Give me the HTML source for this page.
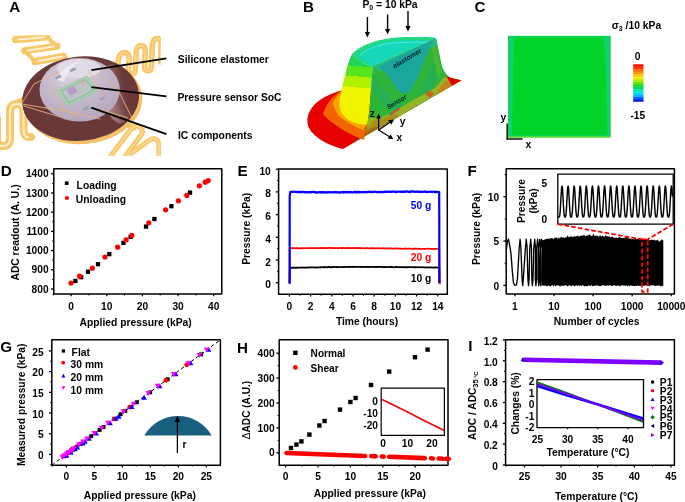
<!DOCTYPE html>
<html><head><meta charset="utf-8"><style>
html,body{margin:0;padding:0;background:#fff;}
svg{display:block;font-family:"Liberation Sans",sans-serif;font-weight:bold;will-change:transform;}
</style></head><body>
<svg width="685" height="502" viewBox="0 0 685 502">
<rect width="685" height="502" fill="#fff"/>
<text x="9.20" y="11.70" font-size="15.2" text-anchor="start" fill="#000" >A</text>
<text x="303.00" y="11.70" font-size="15.2" text-anchor="start" fill="#000" >B</text>
<text x="474.40" y="11.90" font-size="15.2" text-anchor="start" fill="#000" >C</text>
<text x="0.70" y="175.90" font-size="15.2" text-anchor="start" fill="#000" >D</text>
<text x="237.50" y="175.60" font-size="15.2" text-anchor="start" fill="#000" >E</text>
<text x="467.50" y="175.60" font-size="15.2" text-anchor="start" fill="#000" >F</text>
<text x="0.30" y="351.50" font-size="15.2" text-anchor="start" fill="#000" >G</text>
<text x="236.90" y="352.50" font-size="15.2" text-anchor="start" fill="#000" >H</text>
<text x="468.30" y="350.50" font-size="15.2" text-anchor="start" fill="#000" >I</text>
<rect x="73.25" y="278.85" width="4.3" height="4.3" fill="#000"/>
<rect x="79.05" y="275.05" width="4.3" height="4.3" fill="#000"/>
<rect x="85.85" y="269.65" width="4.3" height="4.3" fill="#000"/>
<rect x="95.85" y="262.05" width="4.3" height="4.3" fill="#000"/>
<rect x="107.15" y="251.95" width="4.3" height="4.3" fill="#000"/>
<rect x="121.25" y="240.75" width="4.3" height="4.3" fill="#000"/>
<rect x="128.45" y="234.65" width="4.3" height="4.3" fill="#000"/>
<rect x="143.85" y="224.45" width="4.3" height="4.3" fill="#000"/>
<rect x="152.25" y="216.85" width="4.3" height="4.3" fill="#000"/>
<rect x="169.25" y="204.05" width="4.3" height="4.3" fill="#000"/>
<rect x="187.85" y="190.45" width="4.3" height="4.3" fill="#000"/>
<circle cx="71.00" cy="283.00" r="2.6" fill="#f00"/>
<circle cx="79.60" cy="276.20" r="2.6" fill="#f00"/>
<circle cx="92.40" cy="268.20" r="2.6" fill="#f00"/>
<circle cx="105.00" cy="257.00" r="2.6" fill="#f00"/>
<circle cx="117.60" cy="247.20" r="2.6" fill="#f00"/>
<circle cx="126.10" cy="239.90" r="2.6" fill="#f00"/>
<circle cx="131.80" cy="235.40" r="2.6" fill="#f00"/>
<circle cx="148.80" cy="222.80" r="2.6" fill="#f00"/>
<circle cx="165.60" cy="209.80" r="2.6" fill="#f00"/>
<circle cx="178.40" cy="200.80" r="2.6" fill="#f00"/>
<circle cx="186.80" cy="195.40" r="2.6" fill="#f00"/>
<circle cx="199.40" cy="185.80" r="2.6" fill="#f00"/>
<circle cx="205.20" cy="182.20" r="2.6" fill="#f00"/>
<circle cx="208.20" cy="180.60" r="2.6" fill="#f00"/>
<rect x="53.80" y="168.80" width="168.00" height="125.20" fill="none" stroke="#000" stroke-width="1.5" stroke-linejoin="round"/>
<line x1="53.80" y1="289.00" x2="51.00" y2="289.00" stroke="#000" stroke-width="1.3" />
<text x="48.60" y="292.60" font-size="10.2" text-anchor="end" fill="#000" >800</text>
<line x1="53.80" y1="269.80" x2="51.00" y2="269.80" stroke="#000" stroke-width="1.3" />
<text x="48.60" y="273.40" font-size="10.2" text-anchor="end" fill="#000" >900</text>
<line x1="53.80" y1="250.60" x2="51.00" y2="250.60" stroke="#000" stroke-width="1.3" />
<text x="48.60" y="254.20" font-size="10.2" text-anchor="end" fill="#000" >1000</text>
<line x1="53.80" y1="231.40" x2="51.00" y2="231.40" stroke="#000" stroke-width="1.3" />
<text x="48.60" y="235.00" font-size="10.2" text-anchor="end" fill="#000" >1100</text>
<line x1="53.80" y1="212.20" x2="51.00" y2="212.20" stroke="#000" stroke-width="1.3" />
<text x="48.60" y="215.80" font-size="10.2" text-anchor="end" fill="#000" >1200</text>
<line x1="53.80" y1="193.00" x2="51.00" y2="193.00" stroke="#000" stroke-width="1.3" />
<text x="48.60" y="196.60" font-size="10.2" text-anchor="end" fill="#000" >1300</text>
<line x1="53.80" y1="173.80" x2="51.00" y2="173.80" stroke="#000" stroke-width="1.3" />
<text x="48.60" y="177.40" font-size="10.2" text-anchor="end" fill="#000" >1400</text>
<line x1="53.80" y1="279.40" x2="52.20" y2="279.40" stroke="#000" stroke-width="1.0" />
<line x1="53.80" y1="260.20" x2="52.20" y2="260.20" stroke="#000" stroke-width="1.0" />
<line x1="53.80" y1="241.00" x2="52.20" y2="241.00" stroke="#000" stroke-width="1.0" />
<line x1="53.80" y1="221.80" x2="52.20" y2="221.80" stroke="#000" stroke-width="1.0" />
<line x1="53.80" y1="202.60" x2="52.20" y2="202.60" stroke="#000" stroke-width="1.0" />
<line x1="53.80" y1="183.40" x2="52.20" y2="183.40" stroke="#000" stroke-width="1.0" />
<line x1="71.10" y1="294.00" x2="71.10" y2="296.20" stroke="#000" stroke-width="1.3" />
<text x="71.10" y="310.20" font-size="10.2" text-anchor="middle" fill="#000" >0</text>
<line x1="106.75" y1="294.00" x2="106.75" y2="296.20" stroke="#000" stroke-width="1.3" />
<text x="106.75" y="310.20" font-size="10.2" text-anchor="middle" fill="#000" >10</text>
<line x1="142.40" y1="294.00" x2="142.40" y2="296.20" stroke="#000" stroke-width="1.3" />
<text x="142.40" y="310.20" font-size="10.2" text-anchor="middle" fill="#000" >20</text>
<line x1="178.05" y1="294.00" x2="178.05" y2="296.20" stroke="#000" stroke-width="1.3" />
<text x="178.05" y="310.20" font-size="10.2" text-anchor="middle" fill="#000" >30</text>
<line x1="213.70" y1="294.00" x2="213.70" y2="296.20" stroke="#000" stroke-width="1.3" />
<text x="213.70" y="310.20" font-size="10.2" text-anchor="middle" fill="#000" >40</text>
<line x1="53.27" y1="294.00" x2="53.27" y2="295.50" stroke="#000" stroke-width="1.0" />
<line x1="88.92" y1="294.00" x2="88.92" y2="295.50" stroke="#000" stroke-width="1.0" />
<line x1="124.57" y1="294.00" x2="124.57" y2="295.50" stroke="#000" stroke-width="1.0" />
<line x1="160.22" y1="294.00" x2="160.22" y2="295.50" stroke="#000" stroke-width="1.0" />
<line x1="195.88" y1="294.00" x2="195.88" y2="295.50" stroke="#000" stroke-width="1.0" />
<rect x="64.90" y="181.40" width="3.6" height="3.6" fill="#000"/>
<text x="76.60" y="189.20" font-size="10.3" text-anchor="start" fill="#000" >Loading</text>
<circle cx="66.90" cy="198.00" r="2.1" fill="#f00"/>
<text x="75.80" y="203.40" font-size="10.3" text-anchor="start" fill="#000" >Unloading</text>
<text x="135.70" y="325.50" font-size="10.3" text-anchor="middle" fill="#000" >Applied pressure (kPa)</text>
<text transform="translate(18.70,232.50) rotate(-90)" font-size="10.3" text-anchor="middle" >ADC readout (A. U.)</text>
<polyline points="289.60,283.00 289.80,268.60 290.40,267.66 290.90,267.81 291.40,267.71 291.90,267.82 292.40,267.82 292.90,267.53 293.40,267.49 293.90,267.89 294.40,267.60 294.90,267.57 295.40,267.95 295.90,267.67 296.40,267.85 296.90,267.66 297.40,267.73 297.90,267.48 298.40,267.71 298.90,267.82 299.40,267.63 299.90,267.73 300.40,267.69 300.90,267.38 301.40,267.71 301.90,267.62 302.40,267.47 302.90,267.32 303.40,267.73 303.90,267.53 304.40,267.64 304.90,267.71 305.40,267.62 305.90,267.71 306.40,267.44 306.90,267.64 307.40,267.45 307.90,267.69 308.40,267.65 308.90,267.25 309.40,267.26 309.90,267.29 310.40,267.66 310.90,267.39 311.40,267.47 311.90,267.30 312.40,267.40 312.90,267.33 313.40,267.30 313.90,267.41 314.40,267.40 314.90,267.55 315.40,267.43 315.90,267.55 316.40,267.50 316.90,267.56 317.40,267.40 317.90,267.13 318.40,267.48 318.90,267.52 319.40,267.48 319.90,267.31 320.40,267.37 320.90,267.11 321.40,267.42 321.90,267.28 322.40,267.13 322.90,267.01 323.40,267.40 323.90,267.46 324.40,267.00 324.90,267.35 325.40,267.15 325.90,267.01 326.40,267.08 326.90,267.31 327.40,267.35 327.90,266.93 328.40,267.21 328.90,266.92 329.40,267.25 329.90,267.05 330.40,267.32 330.90,267.36 331.40,267.12 331.90,267.36 332.40,267.01 332.90,266.89 333.40,267.15 333.90,266.86 334.40,266.93 334.90,267.03 335.40,267.13 335.90,266.90 336.40,266.84 336.90,267.24 337.40,266.96 337.90,267.28 338.40,267.24 338.90,266.98 339.40,267.02 339.90,267.04 340.40,267.10 340.90,267.07 341.40,267.05 341.90,267.07 342.40,267.23 342.90,267.01 343.40,266.97 343.90,267.11 344.40,266.86 344.90,266.89 345.40,267.23 345.90,267.00 346.40,267.01 346.90,266.73 347.40,266.93 347.90,267.01 348.40,266.73 348.90,267.03 349.40,267.03 349.90,266.74 350.40,267.02 350.90,266.94 351.40,267.04 351.90,266.88 352.40,267.05 352.90,267.07 353.40,266.71 353.90,266.72 354.40,267.03 354.90,267.17 355.40,266.82 355.90,266.92 356.40,266.98 356.90,266.85 357.40,266.87 357.90,266.84 358.40,266.87 358.90,266.98 359.40,266.83 359.90,266.87 360.40,267.07 360.90,266.69 361.40,266.96 361.90,267.05 362.40,266.83 362.90,266.79 363.40,267.08 363.90,266.80 364.40,266.77 364.90,266.90 365.40,267.03 365.90,266.73 366.40,266.84 366.90,266.85 367.40,267.10 367.90,266.90 368.40,267.11 368.90,266.77 369.40,266.85 369.90,267.01 370.40,267.13 370.90,266.91 371.40,266.80 371.90,266.75 372.40,266.96 372.90,266.79 373.40,267.10 373.90,267.11 374.40,266.79 374.90,266.84 375.40,267.11 375.90,267.02 376.40,267.11 376.90,266.88 377.40,266.77 377.90,266.86 378.40,267.11 378.90,266.85 379.40,266.89 379.90,266.93 380.40,266.94 380.90,266.93 381.40,267.19 381.90,266.81 382.40,266.74 382.90,267.21 383.40,267.18 383.90,267.24 384.40,266.97 384.90,267.23 385.40,267.22 385.90,266.87 386.40,267.14 386.90,267.19 387.40,267.10 387.90,267.03 388.40,266.92 388.90,266.95 389.40,266.90 389.90,266.82 390.40,267.09 390.90,266.94 391.40,267.21 391.90,266.83 392.40,267.26 392.90,267.16 393.40,267.28 393.90,267.27 394.40,267.28 394.90,267.12 395.40,266.84 395.90,267.21 396.40,266.93 396.90,267.00 397.40,267.19 397.90,267.12 398.40,267.07 398.90,267.34 399.40,267.18 399.90,267.05 400.40,267.01 400.90,267.32 401.40,267.13 401.90,267.29 402.40,267.08 402.90,267.01 403.40,267.18 403.90,267.33 404.40,267.01 404.90,267.33 405.40,267.40 405.90,267.34 406.40,267.36 406.90,266.96 407.40,267.27 407.90,267.39 408.40,266.99 408.90,267.11 409.40,267.11 409.90,267.25 410.40,267.20 410.90,267.23 411.40,267.39 411.90,267.01 412.40,267.04 412.90,267.08 413.40,267.08 413.90,267.06 414.40,267.52 414.90,267.47 415.40,267.09 415.90,267.30 416.40,267.21 416.90,267.22 417.40,267.24 417.90,267.40 418.40,267.37 418.90,267.26 419.40,267.18 419.90,267.26 420.40,267.16 420.90,267.38 421.40,267.47 421.90,267.31 422.40,267.16 422.90,267.22 423.40,267.32 423.90,267.44 424.40,267.53 424.90,267.34 425.40,267.55 425.90,267.47 426.40,267.38 426.90,267.35 427.40,267.42 427.90,267.53 428.40,267.39 428.90,267.54 429.40,267.42 429.90,267.32 430.40,267.47 430.90,267.56 431.40,267.25 431.90,267.43 432.40,267.44 432.90,267.67 433.40,267.70 433.90,267.43 434.40,267.69 434.90,267.64 435.40,267.38 435.90,267.49 436.40,267.32 436.90,267.67 437.40,267.60 437.90,267.72 438.40,267.68 438.90,267.62 439.30,267.20 439.50,283.00" fill="none" stroke="#000" stroke-width="1.7" stroke-linejoin="round" />
<polyline points="289.60,283.00 289.80,248.40 290.40,248.41 290.90,248.32 291.40,248.09 291.90,248.33 292.40,248.03 292.90,248.10 293.40,248.41 293.90,248.04 294.40,248.06 294.90,248.07 295.40,248.45 295.90,248.10 296.40,248.02 296.90,248.42 297.40,248.06 297.90,248.42 298.40,248.33 298.90,248.41 299.40,248.46 299.90,248.27 300.40,248.38 300.90,247.99 301.40,248.35 301.90,248.22 302.40,248.32 302.90,248.01 303.40,248.33 303.90,248.42 304.40,247.98 304.90,248.11 305.40,248.22 305.90,248.35 306.40,248.06 306.90,248.02 307.40,248.05 307.90,248.23 308.40,248.30 308.90,248.12 309.40,248.10 309.90,248.11 310.40,248.08 310.90,248.12 311.40,247.94 311.90,248.15 312.40,248.38 312.90,248.10 313.40,248.26 313.90,247.97 314.40,248.23 314.90,248.26 315.40,248.22 315.90,248.13 316.40,248.12 316.90,248.19 317.40,248.32 317.90,247.94 318.40,247.91 318.90,248.23 319.40,248.32 319.90,248.11 320.40,248.07 320.90,248.21 321.40,247.94 321.90,247.98 322.40,247.94 322.90,248.13 323.40,248.00 323.90,247.95 324.40,248.18 324.90,248.31 325.40,247.98 325.90,248.18 326.40,248.03 326.90,248.25 327.40,248.12 327.90,247.96 328.40,247.93 328.90,247.83 329.40,248.06 329.90,248.01 330.40,247.90 330.90,248.00 331.40,247.98 331.90,248.20 332.40,247.88 332.90,248.31 333.40,248.05 333.90,248.11 334.40,248.04 334.90,248.23 335.40,248.22 335.90,248.09 336.40,248.05 336.90,248.17 337.40,248.24 337.90,248.01 338.40,248.17 338.90,248.29 339.40,248.04 339.90,247.92 340.40,247.93 340.90,248.17 341.40,248.15 341.90,248.29 342.40,248.24 342.90,247.93 343.40,247.91 343.90,247.94 344.40,247.91 344.90,248.17 345.40,248.25 345.90,248.27 346.40,247.95 346.90,248.25 347.40,247.98 347.90,248.04 348.40,248.19 348.90,247.87 349.40,247.88 349.90,248.25 350.40,247.98 350.90,248.01 351.40,248.13 351.90,248.18 352.40,247.85 352.90,248.01 353.40,248.06 353.90,248.09 354.40,247.96 354.90,248.15 355.40,248.34 355.90,248.06 356.40,248.14 356.90,247.93 357.40,248.01 357.90,248.21 358.40,247.93 358.90,248.32 359.40,248.34 359.90,247.93 360.40,248.36 360.90,248.08 361.40,248.28 361.90,248.28 362.40,248.05 362.90,248.25 363.40,248.24 363.90,248.32 364.40,248.05 364.90,248.30 365.40,248.41 365.90,248.27 366.40,248.21 366.90,248.00 367.40,248.20 367.90,248.13 368.40,248.32 368.90,248.30 369.40,248.25 369.90,248.06 370.40,248.30 370.90,248.30 371.40,248.08 371.90,248.44 372.40,248.33 372.90,248.06 373.40,248.47 373.90,248.08 374.40,248.18 374.90,248.38 375.40,248.33 375.90,248.31 376.40,248.36 376.90,248.28 377.40,248.21 377.90,248.15 378.40,248.10 378.90,248.43 379.40,248.45 379.90,248.35 380.40,248.46 380.90,248.27 381.40,248.23 381.90,248.30 382.40,248.55 382.90,248.14 383.40,248.38 383.90,248.25 384.40,248.52 384.90,248.32 385.40,248.32 385.90,248.36 386.40,248.43 386.90,248.55 387.40,248.35 387.90,248.60 388.40,248.24 388.90,248.33 389.40,248.25 389.90,248.26 390.40,248.60 390.90,248.58 391.40,248.32 391.90,248.33 392.40,248.45 392.90,248.62 393.40,248.66 393.90,248.63 394.40,248.56 394.90,248.34 395.40,248.48 395.90,248.38 396.40,248.55 396.90,248.58 397.40,248.40 397.90,248.44 398.40,248.71 398.90,248.34 399.40,248.73 399.90,248.78 400.40,248.82 400.90,248.54 401.40,248.63 401.90,248.65 402.40,248.68 402.90,248.86 403.40,248.72 403.90,248.54 404.40,248.82 404.90,248.64 405.40,248.71 405.90,248.77 406.40,248.42 406.90,248.81 407.40,248.76 407.90,248.68 408.40,248.70 408.90,248.68 409.40,248.55 409.90,248.72 410.40,248.48 410.90,248.72 411.40,248.80 411.90,248.70 412.40,248.77 412.90,248.97 413.40,248.95 413.90,248.57 414.40,248.91 414.90,248.83 415.40,248.55 415.90,248.71 416.40,248.65 416.90,248.58 417.40,248.81 417.90,249.01 418.40,248.71 418.90,248.99 419.40,248.91 419.90,248.63 420.40,249.00 420.90,248.88 421.40,249.04 421.90,248.94 422.40,248.96 422.90,248.77 423.40,249.00 423.90,249.07 424.40,249.04 424.90,248.83 425.40,248.99 425.90,248.86 426.40,248.68 426.90,248.65 427.40,248.67 427.90,248.73 428.40,248.72 428.90,248.89 429.40,248.99 429.90,248.92 430.40,248.86 430.90,248.98 431.40,248.81 431.90,248.89 432.40,249.04 432.90,248.87 433.40,248.76 433.90,249.12 434.40,249.03 434.90,248.86 435.40,248.87 435.90,248.95 436.40,248.98 436.90,248.80 437.40,248.69 437.90,248.80 438.40,249.09 438.90,248.77 439.30,248.60 439.50,283.00" fill="none" stroke="#f00" stroke-width="1.7" stroke-linejoin="round" />
<polyline points="289.60,283.20 289.70,196.00 290.10,193.20 290.40,191.98 290.90,191.80 291.40,191.81 291.90,191.79 292.40,191.96 292.90,191.80 293.40,191.71 293.90,191.77 294.40,191.82 294.90,192.05 295.40,191.76 295.90,191.74 296.40,192.04 296.90,192.02 297.40,192.23 297.90,191.78 298.40,192.03 298.90,192.03 299.40,191.78 299.90,192.44 300.40,191.92 300.90,191.84 301.40,192.11 301.90,191.90 302.40,192.23 302.90,192.04 303.40,191.89 303.90,191.84 304.40,192.32 304.90,192.01 305.40,192.37 305.90,192.15 306.40,192.49 306.90,192.05 307.40,192.02 307.90,192.03 308.40,192.42 308.90,192.30 309.40,192.10 309.90,191.93 310.40,192.35 310.90,192.55 311.40,192.29 311.90,191.88 312.40,191.91 312.90,191.95 313.40,192.01 313.90,191.92 314.40,191.94 314.90,192.36 315.40,192.54 315.90,192.05 316.40,192.59 316.90,192.25 317.40,192.48 317.90,192.56 318.40,192.58 318.90,191.95 319.40,192.14 319.90,192.35 320.40,192.59 320.90,191.99 321.40,192.14 321.90,192.53 322.40,192.02 322.90,192.21 323.40,192.18 323.90,192.42 324.40,192.59 324.90,192.07 325.40,192.46 325.90,192.46 326.40,192.53 326.90,192.34 327.40,192.60 327.90,192.20 328.40,192.24 328.90,192.11 329.40,192.50 329.90,192.29 330.40,192.14 330.90,192.07 331.40,192.45 331.90,192.37 332.40,192.45 332.90,192.22 333.40,192.29 333.90,192.05 334.40,192.44 334.90,191.96 335.40,192.27 335.90,192.47 336.40,192.41 336.90,192.00 337.40,192.10 337.90,192.52 338.40,192.38 338.90,192.54 339.40,192.54 339.90,192.24 340.40,192.55 340.90,192.43 341.40,192.15 341.90,192.17 342.40,191.96 342.90,192.19 343.40,192.57 343.90,191.97 344.40,192.29 344.90,191.97 345.40,191.95 345.90,192.34 346.40,192.05 346.90,191.91 347.40,191.98 347.90,192.32 348.40,192.28 348.90,191.87 349.40,192.02 349.90,192.53 350.40,192.00 350.90,192.24 351.40,192.13 351.90,192.38 352.40,192.25 352.90,192.38 353.40,192.20 353.90,191.95 354.40,191.94 354.90,191.86 355.40,192.38 355.90,191.87 356.40,191.81 356.90,192.46 357.40,191.92 357.90,192.40 358.40,191.83 358.90,192.09 359.40,191.91 359.90,192.33 360.40,192.18 360.90,192.19 361.40,192.27 361.90,192.34 362.40,191.97 362.90,192.14 363.40,192.02 363.90,191.78 364.40,192.28 364.90,192.11 365.40,192.26 365.90,191.83 366.40,192.05 366.90,191.99 367.40,192.17 367.90,191.71 368.40,191.89 368.90,191.98 369.40,191.69 369.90,192.02 370.40,192.14 370.90,191.92 371.40,192.07 371.90,192.03 372.40,191.75 372.90,191.84 373.40,192.29 373.90,191.82 374.40,191.88 374.90,191.63 375.40,191.72 375.90,191.68 376.40,192.21 376.90,192.06 377.40,192.16 377.90,192.23 378.40,191.96 378.90,192.18 379.40,191.90 379.90,191.81 380.40,192.18 380.90,192.14 381.40,192.17 381.90,191.84 382.40,192.03 382.90,191.77 383.40,192.18 383.90,192.12 384.40,191.68 384.90,192.12 385.40,191.59 385.90,191.53 386.40,191.96 386.90,191.65 387.40,191.81 387.90,191.89 388.40,191.46 388.90,191.95 389.40,191.62 389.90,191.73 390.40,191.66 390.90,191.94 391.40,191.94 391.90,191.61 392.40,191.48 392.90,191.61 393.40,191.69 393.90,191.45 394.40,191.50 394.90,191.92 395.40,191.88 395.90,192.07 396.40,192.07 396.90,191.99 397.40,191.64 397.90,191.49 398.40,191.59 398.90,191.69 399.40,191.73 399.90,191.74 400.40,191.61 400.90,191.96 401.40,191.56 401.90,191.68 402.40,191.98 402.90,191.92 403.40,191.56 403.90,191.52 404.40,191.92 404.90,191.36 405.40,191.44 405.90,191.72 406.40,191.73 406.90,191.47 407.40,191.39 407.90,191.49 408.40,191.89 408.90,191.68 409.40,192.04 409.90,191.90 410.40,192.04 410.90,191.38 411.40,191.48 411.90,191.36 412.40,191.66 412.90,191.59 413.40,191.39 413.90,191.74 414.40,191.43 414.90,191.58 415.40,191.54 415.90,191.93 416.40,191.66 416.90,191.55 417.40,191.40 417.90,191.67 418.40,191.82 418.90,191.85 419.40,192.02 419.90,191.95 420.40,191.56 420.90,191.49 421.40,191.92 421.90,191.95 422.40,191.76 422.90,191.98 423.40,191.79 423.90,191.61 424.40,191.53 424.90,191.43 425.40,191.87 425.90,192.05 426.40,192.06 426.90,191.76 427.40,191.90 427.90,192.09 428.40,192.02 428.90,191.87 429.40,191.75 429.90,191.82 430.40,191.58 430.90,191.60 431.40,191.95 431.90,192.17 432.40,191.87 432.90,191.77 433.40,191.74 433.90,191.82 434.40,192.07 434.90,191.83 435.40,192.19 435.90,191.63 436.40,191.75 436.90,191.90 437.40,191.83 437.90,192.14 438.40,192.13 438.90,192.21 439.20,192.20 439.40,283.20" fill="none" stroke="#0000ff" stroke-width="2.2" stroke-linejoin="round" />
<circle cx="439.80" cy="283.30" r="0.9" fill="#f00"/>
<circle cx="289.50" cy="283.20" r="0.9" fill="#00f"/>
<rect x="278.60" y="168.90" width="168.70" height="125.40" fill="none" stroke="#000" stroke-width="1.5" stroke-linejoin="round"/>
<line x1="278.60" y1="282.70" x2="275.80" y2="282.70" stroke="#000" stroke-width="1.3" />
<text x="270.80" y="288.20" font-size="10.2" text-anchor="end" fill="#000" >0</text>
<line x1="278.60" y1="260.00" x2="275.80" y2="260.00" stroke="#000" stroke-width="1.3" />
<text x="270.80" y="265.50" font-size="10.2" text-anchor="end" fill="#000" >2</text>
<line x1="278.60" y1="237.30" x2="275.80" y2="237.30" stroke="#000" stroke-width="1.3" />
<text x="270.80" y="242.80" font-size="10.2" text-anchor="end" fill="#000" >4</text>
<line x1="278.60" y1="214.60" x2="275.80" y2="214.60" stroke="#000" stroke-width="1.3" />
<text x="270.80" y="220.10" font-size="10.2" text-anchor="end" fill="#000" >6</text>
<line x1="278.60" y1="191.90" x2="275.80" y2="191.90" stroke="#000" stroke-width="1.3" />
<text x="270.80" y="197.40" font-size="10.2" text-anchor="end" fill="#000" >8</text>
<line x1="278.60" y1="169.20" x2="275.80" y2="169.20" stroke="#000" stroke-width="1.3" />
<text x="270.80" y="174.70" font-size="10.2" text-anchor="end" fill="#000" >10</text>
<line x1="278.60" y1="271.35" x2="277.00" y2="271.35" stroke="#000" stroke-width="1.0" />
<line x1="278.60" y1="248.65" x2="277.00" y2="248.65" stroke="#000" stroke-width="1.0" />
<line x1="278.60" y1="225.95" x2="277.00" y2="225.95" stroke="#000" stroke-width="1.0" />
<line x1="278.60" y1="203.25" x2="277.00" y2="203.25" stroke="#000" stroke-width="1.0" />
<line x1="278.60" y1="180.55" x2="277.00" y2="180.55" stroke="#000" stroke-width="1.0" />
<line x1="289.40" y1="294.30" x2="289.40" y2="296.50" stroke="#000" stroke-width="1.3" />
<text x="289.40" y="310.30" font-size="10.2" text-anchor="middle" fill="#000" >0</text>
<line x1="310.60" y1="294.30" x2="310.60" y2="296.50" stroke="#000" stroke-width="1.3" />
<text x="310.60" y="310.30" font-size="10.2" text-anchor="middle" fill="#000" >2</text>
<line x1="331.80" y1="294.30" x2="331.80" y2="296.50" stroke="#000" stroke-width="1.3" />
<text x="331.80" y="310.30" font-size="10.2" text-anchor="middle" fill="#000" >4</text>
<line x1="353.00" y1="294.30" x2="353.00" y2="296.50" stroke="#000" stroke-width="1.3" />
<text x="353.00" y="310.30" font-size="10.2" text-anchor="middle" fill="#000" >6</text>
<line x1="374.20" y1="294.30" x2="374.20" y2="296.50" stroke="#000" stroke-width="1.3" />
<text x="374.20" y="310.30" font-size="10.2" text-anchor="middle" fill="#000" >8</text>
<line x1="395.40" y1="294.30" x2="395.40" y2="296.50" stroke="#000" stroke-width="1.3" />
<text x="395.40" y="310.30" font-size="10.2" text-anchor="middle" fill="#000" >10</text>
<line x1="416.60" y1="294.30" x2="416.60" y2="296.50" stroke="#000" stroke-width="1.3" />
<text x="416.60" y="310.30" font-size="10.2" text-anchor="middle" fill="#000" >12</text>
<line x1="437.80" y1="294.30" x2="437.80" y2="296.50" stroke="#000" stroke-width="1.3" />
<text x="437.80" y="310.30" font-size="10.2" text-anchor="middle" fill="#000" >14</text>
<line x1="300.00" y1="294.30" x2="300.00" y2="295.80" stroke="#000" stroke-width="1.0" />
<line x1="321.20" y1="294.30" x2="321.20" y2="295.80" stroke="#000" stroke-width="1.0" />
<line x1="342.40" y1="294.30" x2="342.40" y2="295.80" stroke="#000" stroke-width="1.0" />
<line x1="363.60" y1="294.30" x2="363.60" y2="295.80" stroke="#000" stroke-width="1.0" />
<line x1="384.80" y1="294.30" x2="384.80" y2="295.80" stroke="#000" stroke-width="1.0" />
<line x1="406.00" y1="294.30" x2="406.00" y2="295.80" stroke="#000" stroke-width="1.0" />
<line x1="427.20" y1="294.30" x2="427.20" y2="295.80" stroke="#000" stroke-width="1.0" />
<text x="431.40" y="208.60" font-size="10.3" text-anchor="end" fill="#0000ff" >50 g</text>
<text x="431.40" y="261.40" font-size="10.3" text-anchor="end" fill="#ff0000" >20 g</text>
<text x="431.40" y="281.60" font-size="10.3" text-anchor="end" fill="#000" >10 g</text>
<text x="367.00" y="325.40" font-size="10.3" text-anchor="middle" fill="#000" >Time (hours)</text>
<text transform="translate(249.90,228.80) rotate(-90)" font-size="10.3" text-anchor="middle" >Pressure (kPa)</text>
<polyline points="506.40,249.40 507.30,242.00 508.40,239.20 510.00,247.00 511.00,254.00 512.40,272.00 513.50,283.00 514.90,285.30 516.50,284.80 517.50,278.00 519.20,248.00 520.10,239.30 520.90,248.00 522.10,279.00 522.70,285.60 523.30,279.00 525.40,248.00 526.30,239.30 527.10,248.00 527.90,279.00 528.50,285.60 529.10,279.00 529.80,248.00 530.70,239.30 531.50,248.00 531.80,279.00 532.40,285.60 533.00,279.00 533.80,248.00 534.70,239.30 535.50,248.00 535.30,279.00 535.90,285.60 536.50,279.00 536.70,248.00 537.60,239.30 538.40,248.00 538.10,279.00 538.70,285.60 539.30,279.00 538.90,248.00 539.80,239.30 540.60,248.00 540.10,279.00 540.70,285.60 541.30,279.00 540.70,248.00 541.60,239.30 542.40,248.00" fill="none" stroke="#000" stroke-width="1.35" stroke-linejoin="round" />
<polygon points="541.50,238.78 542.20,240.08 542.90,240.24 543.60,240.07 544.30,240.34 545.00,239.12 545.70,239.32 546.40,239.05 547.10,239.02 547.80,238.63 548.50,238.45 549.20,238.35 549.90,239.47 550.60,238.04 551.30,238.05 552.00,238.27 552.70,238.13 553.40,239.11 554.10,238.65 554.80,237.56 555.50,237.69 556.20,237.38 556.90,237.82 557.60,238.70 558.30,237.27 559.00,238.41 559.70,238.37 560.40,237.18 561.10,237.48 561.80,236.65 562.50,237.79 563.20,237.32 563.90,237.72 564.60,237.80 565.30,237.78 566.00,236.59 566.70,237.66 567.40,234.70 568.10,237.22 568.80,236.73 569.50,236.69 570.20,236.72 570.90,236.29 571.60,236.60 572.30,236.96 573.00,237.08 573.70,236.26 574.40,236.44 575.10,236.08 575.80,236.71 576.50,235.97 577.20,235.89 577.90,235.26 578.60,236.70 579.30,235.96 580.00,236.44 580.70,235.49 581.40,235.57 582.10,235.88 582.80,235.51 583.50,235.02 584.20,234.91 584.90,235.69 585.60,236.15 586.30,235.88 587.00,235.38 587.70,235.21 588.40,235.70 589.10,233.79 589.80,235.01 590.50,235.53 591.20,235.76 591.90,236.27 592.60,235.41 593.30,233.35 594.00,235.47 594.70,235.38 595.40,236.31 596.10,235.09 596.80,236.50 597.50,235.20 598.20,236.48 598.90,236.74 599.60,235.54 600.30,235.49 601.00,235.89 601.70,236.75 602.40,235.53 603.10,235.80 603.80,236.86 604.50,237.06 605.20,234.45 605.90,236.32 606.60,235.84 607.30,236.09 608.00,236.97 608.70,236.27 609.40,236.36 610.10,237.09 610.80,237.28 611.50,237.08 612.20,236.27 612.90,237.02 613.60,237.73 614.30,237.65 615.00,237.99 615.70,237.59 616.40,237.43 617.10,237.92 617.80,237.99 618.50,237.59 619.20,236.86 619.90,237.25 620.60,237.69 621.30,238.07 622.00,238.01 622.70,237.75 623.40,238.15 624.10,237.26 624.80,238.30 625.50,237.51 626.20,235.92 626.90,237.62 627.60,237.52 628.30,238.80 629.00,237.57 629.70,239.02 630.40,238.33 631.10,239.16 631.80,238.49 632.50,239.31 633.20,239.23 633.90,239.04 634.60,239.45 635.30,238.21 636.00,238.81 636.70,239.24 637.40,238.79 638.10,239.03 638.80,238.28 639.50,238.60 640.20,239.84 640.90,237.47 641.60,239.62 642.30,238.73 643.00,239.30 643.70,239.45 644.40,238.89 645.10,240.10 645.80,238.88 646.50,239.53 647.20,239.27 647.90,239.35 648.60,239.01 649.30,240.56 650.00,239.68 650.70,240.18 651.40,239.89 652.10,239.59 652.80,239.78 653.50,240.29 654.20,239.43 654.90,240.35 655.60,240.45 656.30,240.38 657.00,239.70 657.70,239.81 658.40,240.70 659.10,241.36 659.80,241.41 660.50,240.63 661.20,239.08 661.90,239.98 662.60,239.97 663.30,240.56 663.30,285.45 662.60,286.01 661.90,286.30 661.20,285.71 660.50,286.39 659.80,285.75 659.10,285.55 658.40,285.19 657.70,285.87 657.00,285.75 656.30,285.46 655.60,286.10 654.90,286.14 654.20,285.29 653.50,285.04 652.80,285.82 652.10,285.14 651.40,285.52 650.70,285.34 650.00,285.67 649.30,286.20 648.60,285.49 647.90,285.26 647.20,285.00 646.50,285.92 645.80,285.59 645.10,285.01 644.40,285.94 643.70,285.91 643.00,285.22 642.30,286.11 641.60,285.30 640.90,285.83 640.20,286.09 639.50,285.76 638.80,285.96 638.10,285.58 637.40,285.39 636.70,286.03 636.00,286.31 635.30,285.40 634.60,286.14 633.90,285.69 633.20,286.06 632.50,286.10 631.80,285.33 631.10,285.86 630.40,285.39 629.70,286.42 629.00,285.47 628.30,285.60 627.60,286.38 626.90,285.25 626.20,285.72 625.50,285.86 624.80,285.59 624.10,285.48 623.40,285.58 622.70,285.37 622.00,285.53 621.30,285.02 620.60,286.25 619.90,286.33 619.20,285.83 618.50,285.30 617.80,285.74 617.10,285.81 616.40,285.79 615.70,286.10 615.00,285.27 614.30,285.52 613.60,285.33 612.90,285.40 612.20,286.29 611.50,285.66 610.80,285.81 610.10,285.26 609.40,285.32 608.70,285.85 608.00,285.17 607.30,285.40 606.60,285.58 605.90,286.25 605.20,285.75 604.50,285.32 603.80,285.18 603.10,285.32 602.40,285.47 601.70,285.31 601.00,286.36 600.30,285.93 599.60,286.35 598.90,285.79 598.20,285.43 597.50,285.70 596.80,285.86 596.10,285.04 595.40,285.59 594.70,285.87 594.00,286.24 593.30,285.72 592.60,286.49 591.90,285.13 591.20,285.15 590.50,285.94 589.80,285.58 589.10,286.25 588.40,285.04 587.70,286.24 587.00,286.34 586.30,286.32 585.60,285.66 584.90,286.24 584.20,286.38 583.50,285.42 582.80,285.21 582.10,285.33 581.40,286.31 580.70,285.60 580.00,285.54 579.30,285.65 578.60,285.32 577.90,285.58 577.20,286.17 576.50,285.10 575.80,285.79 575.10,285.80 574.40,286.45 573.70,285.51 573.00,285.18 572.30,285.43 571.60,286.40 570.90,285.54 570.20,285.76 569.50,285.22 568.80,285.14 568.10,286.03 567.40,286.30 566.70,286.31 566.00,285.08 565.30,285.25 564.60,285.27 563.90,285.89 563.20,285.80 562.50,285.70 561.80,286.12 561.10,285.47 560.40,286.43 559.70,286.47 559.00,285.29 558.30,285.53 557.60,285.20 556.90,285.58 556.20,285.80 555.50,286.31 554.80,285.26 554.10,285.21 553.40,286.49 552.70,285.22 552.00,285.07 551.30,285.72 550.60,286.44 549.90,286.23 549.20,286.11 548.50,285.30 547.80,286.47 547.10,285.42 546.40,286.42 545.70,285.47 545.00,285.27 544.30,285.97 543.60,285.77 542.90,285.15 542.20,285.42 541.50,285.86" fill="#000"/>
<rect x="506.20" y="168.80" width="168.20" height="125.20" fill="none" stroke="#000" stroke-width="1.5" stroke-linejoin="round"/>
<line x1="506.20" y1="285.40" x2="503.40" y2="285.40" stroke="#000" stroke-width="1.3" />
<text x="499.20" y="289.60" font-size="10.2" text-anchor="end" fill="#000" >0</text>
<line x1="506.20" y1="241.05" x2="503.40" y2="241.05" stroke="#000" stroke-width="1.3" />
<text x="499.20" y="245.25" font-size="10.2" text-anchor="end" fill="#000" >5</text>
<line x1="506.20" y1="196.70" x2="503.40" y2="196.70" stroke="#000" stroke-width="1.3" />
<text x="499.20" y="200.90" font-size="10.2" text-anchor="end" fill="#000" >10</text>
<line x1="506.20" y1="263.22" x2="504.60" y2="263.22" stroke="#000" stroke-width="1.0" />
<line x1="506.20" y1="218.88" x2="504.60" y2="218.88" stroke="#000" stroke-width="1.0" />
<line x1="506.20" y1="174.52" x2="504.60" y2="174.52" stroke="#000" stroke-width="1.0" />
<line x1="514.90" y1="294.00" x2="514.90" y2="296.20" stroke="#000" stroke-width="1.3" />
<text x="514.90" y="310.20" font-size="10.2" text-anchor="middle" fill="#000" >1</text>
<line x1="554.00" y1="294.00" x2="554.00" y2="296.20" stroke="#000" stroke-width="1.3" />
<text x="554.00" y="310.20" font-size="10.2" text-anchor="middle" fill="#000" >10</text>
<line x1="593.10" y1="294.00" x2="593.10" y2="296.20" stroke="#000" stroke-width="1.3" />
<text x="593.10" y="310.20" font-size="10.2" text-anchor="middle" fill="#000" >100</text>
<line x1="632.20" y1="294.00" x2="632.20" y2="296.20" stroke="#000" stroke-width="1.3" />
<text x="632.20" y="310.20" font-size="10.2" text-anchor="middle" fill="#000" >1000</text>
<line x1="671.30" y1="294.00" x2="671.30" y2="296.20" stroke="#000" stroke-width="1.3" />
<text x="671.30" y="310.20" font-size="10.2" text-anchor="middle" fill="#000" >10000</text>
<text x="596.60" y="325.40" font-size="10.3" text-anchor="middle" fill="#000" >Number of cycles</text>
<text transform="translate(479.60,229.00) rotate(-90)" font-size="10.3" text-anchor="middle" >Pressure (kPa)</text>
<rect x="557.8" y="174.2" width="115.40000000000009" height="50.0" fill="#fff"/>
<polyline points="558.40,216.44 558.65,216.91 558.90,217.00 559.15,216.98 559.40,216.74 559.65,215.93 559.90,214.29 560.15,211.67 560.40,208.09 560.65,203.77 560.90,199.07 561.15,194.47 561.40,190.49 561.65,187.59 561.90,186.13 562.15,186.30 562.40,188.06 562.65,191.21 562.90,195.36 563.15,200.02 563.40,204.68 563.65,208.88 563.90,212.27 564.15,214.70 564.40,216.15 564.65,216.82 564.90,216.99 565.15,217.00 565.40,216.86 565.65,216.27 565.90,214.92 566.15,212.62 566.40,209.33 566.65,205.21 566.90,200.58 567.15,195.90 567.40,191.66 567.65,188.37 567.90,186.43 568.15,186.06 568.40,187.33 568.65,190.07 568.90,193.95 569.15,198.50 569.40,203.21 569.65,207.61 569.90,211.29 570.15,214.03 570.40,215.78 570.65,216.68 570.90,216.97 571.15,217.00 571.40,216.94 571.65,216.53 571.90,215.45 572.15,213.46 572.40,210.48 572.65,206.60 572.90,202.10 573.15,197.37 573.40,192.94 573.65,189.30 573.90,186.89 574.15,186.00 574.40,186.76 574.65,189.05 574.90,192.61 575.15,197.00 575.40,201.72 575.65,206.26 575.90,210.20 576.15,213.26 576.40,215.33 576.65,216.47 576.90,216.92 577.15,217.00 577.40,216.98 577.65,216.72 577.90,215.88 578.15,214.21 578.40,211.54 578.65,207.93 578.90,203.58 579.15,198.88 579.40,194.29 579.65,190.35 579.90,187.50 580.15,186.11 580.40,186.34 580.65,188.16 580.90,191.36 581.15,195.54 581.40,200.21 581.65,204.86 581.90,209.03 582.15,212.39 582.40,214.77 582.65,216.19 582.90,216.83 583.15,216.99 583.40,217.00 583.65,216.85 583.90,216.23 584.15,214.85 584.40,212.50 584.65,209.18 584.90,205.03 585.15,200.40 585.40,195.72 585.65,191.51 585.90,188.27 586.15,186.38 586.40,186.08 586.65,187.42 586.90,190.21 587.15,194.12 587.40,198.69 587.65,203.40 587.90,207.77 588.15,211.42 588.40,214.12 588.65,215.83 588.90,216.70 589.15,216.97 589.40,217.00 589.65,216.93 589.90,216.50 590.15,215.39 590.40,213.36 590.65,210.34 590.90,206.43 591.15,201.91 591.40,197.19 591.65,192.77 591.90,189.17 592.15,186.82 592.40,186.00 592.65,186.82 592.90,189.17 593.15,192.77 593.40,197.19 593.65,201.91 593.90,206.43 594.15,210.34 594.40,213.36 594.65,215.39 594.90,216.50 595.15,216.93 595.40,217.00 595.65,216.97 595.90,216.70 596.15,215.83 596.40,214.12 596.65,211.42 596.90,207.77 597.15,203.40 597.40,198.69 597.65,194.12 597.90,190.21 598.15,187.42 598.40,186.08 598.65,186.38 598.90,188.27 599.15,191.51 599.40,195.72 599.65,200.40 599.90,205.03 600.15,209.18 600.40,212.50 600.65,214.85 600.90,216.23 601.15,216.85 601.40,217.00 601.65,216.99 601.90,216.83 602.15,216.19 602.40,214.77 602.65,212.39 602.90,209.03 603.15,204.86 603.40,200.21 603.65,195.54 603.90,191.36 604.15,188.16 604.40,186.34 604.65,186.11 604.90,187.50 605.15,190.35 605.40,194.29 605.65,198.88 605.90,203.58 606.15,207.93 606.40,211.54 606.65,214.21 606.90,215.88 607.15,216.72 607.40,216.98 607.65,217.00 607.90,216.92 608.15,216.47 608.40,215.33 608.65,213.26 608.90,210.20 609.15,206.26 609.40,201.72 609.65,197.00 609.90,192.61 610.15,189.05 610.40,186.76 610.65,186.00 610.90,186.89 611.15,189.30 611.40,192.94 611.65,197.37 611.90,202.10 612.15,206.60 612.40,210.48 612.65,213.46 612.90,215.45 613.15,216.53 613.40,216.94 613.65,217.00 613.90,216.97 614.15,216.68 614.40,215.78 614.65,214.03 614.90,211.29 615.15,207.61 615.40,203.21 615.65,198.50 615.90,193.95 616.15,190.07 616.40,187.33 616.65,186.06 616.90,186.43 617.15,188.37 617.40,191.66 617.65,195.90 617.90,200.58 618.15,205.21 618.40,209.33 618.65,212.62 618.90,214.92 619.15,216.27 619.40,216.86 619.65,217.00 619.90,216.99 620.15,216.82 620.40,216.15 620.65,214.70 620.90,212.27 621.15,208.88 621.40,204.68 621.65,200.02 621.90,195.36 622.15,191.21 622.40,188.06 622.65,186.30 622.90,186.13 623.15,187.59 623.40,190.49 623.65,194.47 623.90,199.07 624.15,203.77 624.40,208.09 624.65,211.67 624.90,214.29 625.15,215.93 625.40,216.74 625.65,216.98 625.90,217.00 626.15,216.91 626.40,216.44 626.65,215.26 626.90,213.16 627.15,210.06 627.40,206.09 627.65,201.53 627.90,196.82 628.15,192.45 628.40,188.93 628.65,186.69 628.90,186.01 629.15,186.95 629.40,189.42 629.65,193.10 629.90,197.56 630.15,202.28 630.40,206.77 630.65,210.62 630.90,213.56 631.15,215.51 631.40,216.56 631.65,216.94 631.90,217.00 632.15,216.97 632.40,216.65 632.65,215.73 632.90,213.94 633.15,211.16 633.40,207.44 633.65,203.03 633.90,198.31 634.15,193.78 634.40,189.94 634.65,187.25 634.90,186.05 635.15,186.48 635.40,188.48 635.65,191.82 635.90,196.08 636.15,200.77 636.40,205.39 636.65,209.48 636.90,212.73 637.15,214.99 637.40,216.31 637.65,216.87 637.90,217.00 638.15,216.99 638.40,216.80 638.65,216.11 638.90,214.62 639.15,212.16 639.40,208.72 639.65,204.50 639.90,199.83 640.15,195.18 640.40,191.06 640.65,187.96 640.90,186.26 641.15,186.16 641.40,187.68 641.65,190.63 641.90,194.64 642.15,199.26 642.40,203.95 642.65,208.25 642.90,211.79 643.15,214.38 643.40,215.98 643.65,216.75 643.90,216.98 644.15,217.00 644.40,216.90 644.65,216.41 644.90,215.20 645.15,213.05 645.40,209.92 645.65,205.92 645.90,201.34 646.15,196.63 646.40,192.29 646.65,188.82 646.90,186.64 647.15,186.01 647.40,187.02 647.65,189.55 647.90,193.27 648.15,197.75 648.40,202.47 648.65,206.94 648.90,210.76 649.15,213.66 649.40,215.57 649.65,216.58 649.90,216.95 650.15,217.00 650.40,216.96 650.65,216.63 650.90,215.68 651.15,213.85 651.40,211.03 651.65,207.28 651.90,202.84 652.15,198.12 652.40,193.61 652.65,189.81 652.90,187.17 653.15,186.03 653.40,186.53 653.65,188.59 653.90,191.97 654.15,196.26 654.40,200.96 654.65,205.57 654.90,209.63 655.15,212.84 655.40,215.06 655.65,216.34 655.90,216.88 656.15,217.00 656.40,216.99 656.65,216.79 656.90,216.07 657.15,214.54 657.40,212.04 657.65,208.57 657.90,204.31 658.15,199.64 658.40,195.00 658.65,190.92 658.90,187.87 659.15,186.22 659.40,186.19 659.65,187.77 659.90,190.77 660.15,194.82 660.40,199.45 660.65,204.13 660.90,208.41 661.15,211.92 661.40,214.46 661.65,216.02 661.90,216.77 662.15,216.99 662.40,217.00 662.65,216.89 662.90,216.38 663.15,215.13 663.40,212.95 663.65,209.77 663.90,205.74 664.15,201.15 664.40,196.45 664.65,192.13 664.90,188.70 665.15,186.58 665.40,186.02 665.65,187.10 665.90,189.68 666.15,193.44 666.40,197.94 666.65,202.66 666.90,207.11 667.15,210.89 667.40,213.75 667.65,215.62 667.90,216.61 668.15,216.96 668.40,217.00 668.65,216.96 668.90,216.61 669.15,215.62 669.40,213.75 669.65,210.89 669.90,207.11 670.15,202.66 670.40,197.94 670.65,193.44 670.90,189.68 671.15,187.10 671.40,186.02 671.65,186.58 671.90,188.70 672.15,192.13 672.40,196.45" fill="none" stroke="#000" stroke-width="1.45" stroke-linejoin="round" />
<rect x="557.80" y="174.20" width="115.40" height="50.00" fill="none" stroke="#000" stroke-width="1.3" stroke-linejoin="round"/>
<text x="547.20" y="187.00" font-size="10.2" text-anchor="end" fill="#000" >5</text>
<text x="547.20" y="222.60" font-size="10.2" text-anchor="end" fill="#000" >0</text>
<text transform="translate(525.30,201.00) rotate(-90)" font-size="10.3" text-anchor="middle" >Pressure</text>
<text transform="translate(537.30,201.00) rotate(-90)" font-size="10.3" text-anchor="middle" >(kPa)</text>
<g stroke="#f00" stroke-width="1.8" stroke-dasharray="4.6,2.2" fill="none">
<line x1="557.8" y1="224.2" x2="642.0" y2="239.4"/>
<line x1="673.2" y1="224.2" x2="647.6" y2="239.4"/>
<rect x="642.1" y="239.4" width="5.6" height="52.4"/>
</g>
<rect x="51.80" y="339.80" width="168.60" height="125.40" fill="none" stroke="#000" stroke-width="1.5" stroke-linejoin="round"/>
<line x1="51.8" y1="465.2" x2="220.4" y2="339.8" stroke="#000" stroke-width="1.0" stroke-dasharray="3.6,2.6"/>
<rect x="62.25" y="454.33" width="3.9" height="3.9" fill="#000"/>
<rect x="71.05" y="447.78" width="3.9" height="3.9" fill="#000"/>
<rect x="75.10" y="444.77" width="3.9" height="3.9" fill="#000"/>
<rect x="78.95" y="441.91" width="3.9" height="3.9" fill="#000"/>
<rect x="89.25" y="434.25" width="3.9" height="3.9" fill="#000"/>
<rect x="97.70" y="427.96" width="3.9" height="3.9" fill="#000"/>
<rect x="101.65" y="425.02" width="3.9" height="3.9" fill="#000"/>
<rect x="118.70" y="412.34" width="3.9" height="3.9" fill="#000"/>
<rect x="123.40" y="408.85" width="3.9" height="3.9" fill="#000"/>
<rect x="134.85" y="400.33" width="3.9" height="3.9" fill="#000"/>
<rect x="148.20" y="390.40" width="3.9" height="3.9" fill="#000"/>
<rect x="165.70" y="377.38" width="3.9" height="3.9" fill="#000"/>
<rect x="199.30" y="352.39" width="3.9" height="3.9" fill="#000"/>
<circle cx="68.60" cy="452.70" r="2.4" fill="#f00"/>
<circle cx="75.40" cy="447.65" r="2.4" fill="#f00"/>
<circle cx="114.05" cy="418.90" r="2.4" fill="#f00"/>
<circle cx="129.80" cy="407.19" r="2.4" fill="#f00"/>
<circle cx="165.75" cy="380.45" r="2.4" fill="#f00"/>
<circle cx="186.70" cy="364.87" r="2.4" fill="#f00"/>
<polygon points="66.10,452.76 63.30,457.80 68.90,457.80" fill="#0000ff"/>
<polygon points="66.40,452.54 63.60,457.58 69.20,457.58" fill="#0000ff"/>
<polygon points="70.50,449.49 67.70,454.53 73.30,454.53" fill="#0000ff"/>
<polygon points="70.80,449.27 68.00,454.31 73.60,454.31" fill="#0000ff"/>
<polygon points="74.90,446.22 72.10,451.26 77.70,451.26" fill="#0000ff"/>
<polygon points="77.30,444.43 74.50,449.47 80.10,449.47" fill="#0000ff"/>
<polygon points="82.80,440.34 80.00,445.38 85.60,445.38" fill="#0000ff"/>
<polygon points="84.95,438.74 82.15,443.78 87.75,443.78" fill="#0000ff"/>
<polygon points="88.95,435.77 86.15,440.81 91.75,440.81" fill="#0000ff"/>
<polygon points="96.15,430.41 93.35,435.45 98.95,435.45" fill="#0000ff"/>
<polygon points="109.95,420.15 107.15,425.19 112.75,425.19" fill="#0000ff"/>
<polygon points="115.95,415.69 113.15,420.73 118.75,420.73" fill="#0000ff"/>
<polygon points="118.75,413.60 115.95,418.64 121.55,418.64" fill="#0000ff"/>
<polygon points="131.70,403.97 128.90,409.01 134.50,409.01" fill="#0000ff"/>
<polygon points="144.10,394.75 141.30,399.79 146.90,399.79" fill="#0000ff"/>
<polygon points="159.65,383.18 156.85,388.22 162.45,388.22" fill="#0000ff"/>
<polygon points="175.65,371.28 172.85,376.32 178.45,376.32" fill="#0000ff"/>
<polygon points="190.50,360.24 187.70,365.28 193.30,365.28" fill="#0000ff"/>
<polygon points="208.55,346.81 205.75,351.85 211.35,351.85" fill="#0000ff"/>
<polygon points="62.30,459.89 59.50,454.85 65.10,454.85" fill="#ff00ff"/>
<polygon points="64.50,458.25 61.70,453.21 67.30,453.21" fill="#ff00ff"/>
<polygon points="68.30,455.43 65.50,450.39 71.10,450.39" fill="#ff00ff"/>
<polygon points="66.70,456.62 63.90,451.58 69.50,451.58" fill="#ff00ff"/>
<polygon points="68.90,454.98 66.10,449.94 71.70,449.94" fill="#ff00ff"/>
<polygon points="72.70,452.16 69.90,447.12 75.50,447.12" fill="#ff00ff"/>
<polygon points="71.10,453.35 68.30,448.31 73.90,448.31" fill="#ff00ff"/>
<polygon points="73.50,451.56 70.70,446.52 76.30,446.52" fill="#ff00ff"/>
<polygon points="78.95,447.51 76.15,442.47 81.75,442.47" fill="#ff00ff"/>
<polygon points="79.00,447.47 76.20,442.43 81.80,442.43" fill="#ff00ff"/>
<polygon points="83.05,444.46 80.25,439.42 85.85,439.42" fill="#ff00ff"/>
<polygon points="87.05,441.48 84.25,436.44 89.85,436.44" fill="#ff00ff"/>
<polygon points="94.25,436.13 91.45,431.09 97.05,431.09" fill="#ff00ff"/>
<polygon points="101.55,430.70 98.75,425.66 104.35,425.66" fill="#ff00ff"/>
<polygon points="108.05,425.86 105.25,420.82 110.85,420.82" fill="#ff00ff"/>
<polygon points="123.45,414.41 120.65,409.37 126.25,409.37" fill="#ff00ff"/>
<polygon points="133.60,406.86 130.80,401.82 136.40,401.82" fill="#ff00ff"/>
<polygon points="148.25,395.96 145.45,390.92 151.05,390.92" fill="#ff00ff"/>
<polygon points="157.75,388.90 154.95,383.86 160.55,383.86" fill="#ff00ff"/>
<polygon points="173.75,377.00 170.95,371.96 176.55,371.96" fill="#ff00ff"/>
<polygon points="188.60,365.95 185.80,360.91 191.40,360.91" fill="#ff00ff"/>
<polygon points="199.35,357.96 196.55,352.92 202.15,352.92" fill="#ff00ff"/>
<polygon points="206.65,352.53 203.85,347.49 209.45,347.49" fill="#ff00ff"/>
<line x1="51.80" y1="454.40" x2="49.00" y2="454.40" stroke="#000" stroke-width="1.3" />
<text x="43.70" y="459.00" font-size="10.2" text-anchor="end" fill="#000" >0</text>
<line x1="51.80" y1="433.70" x2="49.00" y2="433.70" stroke="#000" stroke-width="1.3" />
<text x="43.70" y="438.30" font-size="10.2" text-anchor="end" fill="#000" >5</text>
<line x1="51.80" y1="413.00" x2="49.00" y2="413.00" stroke="#000" stroke-width="1.3" />
<text x="43.70" y="417.60" font-size="10.2" text-anchor="end" fill="#000" >10</text>
<line x1="51.80" y1="392.30" x2="49.00" y2="392.30" stroke="#000" stroke-width="1.3" />
<text x="43.70" y="396.90" font-size="10.2" text-anchor="end" fill="#000" >15</text>
<line x1="51.80" y1="371.60" x2="49.00" y2="371.60" stroke="#000" stroke-width="1.3" />
<text x="43.70" y="376.20" font-size="10.2" text-anchor="end" fill="#000" >20</text>
<line x1="51.80" y1="350.90" x2="49.00" y2="350.90" stroke="#000" stroke-width="1.3" />
<text x="43.70" y="355.50" font-size="10.2" text-anchor="end" fill="#000" >25</text>
<line x1="51.80" y1="464.75" x2="50.20" y2="464.75" stroke="#000" stroke-width="1.0" />
<line x1="51.80" y1="444.05" x2="50.20" y2="444.05" stroke="#000" stroke-width="1.0" />
<line x1="51.80" y1="423.35" x2="50.20" y2="423.35" stroke="#000" stroke-width="1.0" />
<line x1="51.80" y1="402.65" x2="50.20" y2="402.65" stroke="#000" stroke-width="1.0" />
<line x1="51.80" y1="381.95" x2="50.20" y2="381.95" stroke="#000" stroke-width="1.0" />
<line x1="51.80" y1="361.25" x2="50.20" y2="361.25" stroke="#000" stroke-width="1.0" />
<line x1="66.30" y1="465.20" x2="66.30" y2="467.40" stroke="#000" stroke-width="1.3" />
<text x="66.30" y="480.00" font-size="10.2" text-anchor="middle" fill="#000" >0</text>
<line x1="94.30" y1="465.20" x2="94.30" y2="467.40" stroke="#000" stroke-width="1.3" />
<text x="94.30" y="480.00" font-size="10.2" text-anchor="middle" fill="#000" >5</text>
<line x1="122.30" y1="465.20" x2="122.30" y2="467.40" stroke="#000" stroke-width="1.3" />
<text x="122.30" y="480.00" font-size="10.2" text-anchor="middle" fill="#000" >10</text>
<line x1="150.30" y1="465.20" x2="150.30" y2="467.40" stroke="#000" stroke-width="1.3" />
<text x="150.30" y="480.00" font-size="10.2" text-anchor="middle" fill="#000" >15</text>
<line x1="178.30" y1="465.20" x2="178.30" y2="467.40" stroke="#000" stroke-width="1.3" />
<text x="178.30" y="480.00" font-size="10.2" text-anchor="middle" fill="#000" >20</text>
<line x1="206.30" y1="465.20" x2="206.30" y2="467.40" stroke="#000" stroke-width="1.3" />
<text x="206.30" y="480.00" font-size="10.2" text-anchor="middle" fill="#000" >25</text>
<line x1="52.30" y1="465.20" x2="52.30" y2="466.70" stroke="#000" stroke-width="1.0" />
<line x1="80.30" y1="465.20" x2="80.30" y2="466.70" stroke="#000" stroke-width="1.0" />
<line x1="108.30" y1="465.20" x2="108.30" y2="466.70" stroke="#000" stroke-width="1.0" />
<line x1="136.30" y1="465.20" x2="136.30" y2="466.70" stroke="#000" stroke-width="1.0" />
<line x1="164.30" y1="465.20" x2="164.30" y2="466.70" stroke="#000" stroke-width="1.0" />
<line x1="192.30" y1="465.20" x2="192.30" y2="466.70" stroke="#000" stroke-width="1.0" />
<rect x="61.80" y="349.40" width="3.2" height="3.2" fill="#000"/>
<text x="71.60" y="355.80" font-size="10.3" text-anchor="start" fill="#000" >Flat</text>
<circle cx="63.20" cy="362.70" r="1.9" fill="#f00"/>
<text x="70.60" y="368.20" font-size="10.3" text-anchor="start" fill="#000" >30 mm</text>
<polygon points="63.40,373.80 61.40,377.40 65.40,377.40" fill="#0000ff"/>
<text x="70.60" y="380.80" font-size="10.3" text-anchor="start" fill="#000" >20 mm</text>
<polygon points="63.40,389.80 61.40,386.20 65.40,386.20" fill="#ff00ff"/>
<text x="70.60" y="393.60" font-size="10.3" text-anchor="start" fill="#000" >10 mm</text>
<text x="139.80" y="498.60" font-size="10.3" text-anchor="middle" fill="#000" >Applied pressure (kPa)</text>
<text transform="translate(24.60,404.80) rotate(-90)" font-size="10.3" text-anchor="middle" >Measured pressure (kPa)</text>
<path d="M144.3,435.5 A38.9,38.9 0 0 1 211.7,435.5 Z" fill="#185f80"/>
<line x1="177.40" y1="453.00" x2="177.40" y2="420.00" stroke="#000" stroke-width="1.3" />
<polygon points="177.4,415.6 174.6,422 180.2,422" fill="#000"/>
<text x="182.40" y="448.20" font-size="10.3" text-anchor="start" fill="#000" >r</text>
<rect x="279.20" y="339.80" width="168.80" height="125.40" fill="none" stroke="#000" stroke-width="1.5" stroke-linejoin="round"/>
<line x1="286.50" y1="453.02" x2="365.20" y2="456.00" stroke="#f00" stroke-width="4.6" stroke-linecap="round"/>
<line x1="371.20" y1="456.07" x2="375.70" y2="456.38" stroke="#f00" stroke-width="4.6" stroke-linecap="round"/>
<line x1="381.70" y1="456.45" x2="383.60" y2="456.66" stroke="#f00" stroke-width="4.6" stroke-linecap="round"/>
<line x1="389.20" y1="456.72" x2="424.80" y2="458.14" stroke="#f00" stroke-width="4.6" stroke-linecap="round"/>
<line x1="431.00" y1="458.22" x2="432.90" y2="458.44" stroke="#f00" stroke-width="4.6" stroke-linecap="round"/>
<line x1="438.50" y1="458.49" x2="442.80" y2="458.79" stroke="#f00" stroke-width="4.6" stroke-linecap="round"/>
<line x1="448.70" y1="458.86" x2="446.00" y2="458.91" stroke="#f00" stroke-width="4.6" stroke-linecap="round"/>
<rect x="288.80" y="445.80" width="4.4" height="4.4" fill="#000"/>
<rect x="294.20" y="442.40" width="4.4" height="4.4" fill="#000"/>
<rect x="299.20" y="439.20" width="4.4" height="4.4" fill="#000"/>
<rect x="307.20" y="432.40" width="4.4" height="4.4" fill="#000"/>
<rect x="317.20" y="423.30" width="4.4" height="4.4" fill="#000"/>
<rect x="322.40" y="418.80" width="4.4" height="4.4" fill="#000"/>
<rect x="337.80" y="407.40" width="4.4" height="4.4" fill="#000"/>
<rect x="348.20" y="399.80" width="4.4" height="4.4" fill="#000"/>
<rect x="353.40" y="395.80" width="4.4" height="4.4" fill="#000"/>
<rect x="368.80" y="382.80" width="4.4" height="4.4" fill="#000"/>
<rect x="387.00" y="369.40" width="4.4" height="4.4" fill="#000"/>
<rect x="412.80" y="355.00" width="4.4" height="4.4" fill="#000"/>
<rect x="425.40" y="347.40" width="4.4" height="4.4" fill="#000"/>
<line x1="279.20" y1="452.80" x2="276.40" y2="452.80" stroke="#000" stroke-width="1.3" />
<text x="274.60" y="456.40" font-size="10.2" text-anchor="end" fill="#000" >0</text>
<line x1="279.20" y1="427.90" x2="276.40" y2="427.90" stroke="#000" stroke-width="1.3" />
<text x="274.60" y="431.50" font-size="10.2" text-anchor="end" fill="#000" >100</text>
<line x1="279.20" y1="403.00" x2="276.40" y2="403.00" stroke="#000" stroke-width="1.3" />
<text x="274.60" y="406.60" font-size="10.2" text-anchor="end" fill="#000" >200</text>
<line x1="279.20" y1="378.10" x2="276.40" y2="378.10" stroke="#000" stroke-width="1.3" />
<text x="274.60" y="381.70" font-size="10.2" text-anchor="end" fill="#000" >300</text>
<line x1="279.20" y1="353.20" x2="276.40" y2="353.20" stroke="#000" stroke-width="1.3" />
<text x="274.60" y="356.80" font-size="10.2" text-anchor="end" fill="#000" >400</text>
<line x1="279.20" y1="440.35" x2="277.60" y2="440.35" stroke="#000" stroke-width="1.0" />
<line x1="279.20" y1="415.45" x2="277.60" y2="415.45" stroke="#000" stroke-width="1.0" />
<line x1="279.20" y1="390.55" x2="277.60" y2="390.55" stroke="#000" stroke-width="1.0" />
<line x1="279.20" y1="365.65" x2="277.60" y2="365.65" stroke="#000" stroke-width="1.0" />
<line x1="285.60" y1="465.20" x2="285.60" y2="467.40" stroke="#000" stroke-width="1.3" />
<text x="285.60" y="480.10" font-size="10.2" text-anchor="middle" fill="#000" >0</text>
<line x1="318.00" y1="465.20" x2="318.00" y2="467.40" stroke="#000" stroke-width="1.3" />
<text x="318.00" y="480.10" font-size="10.2" text-anchor="middle" fill="#000" >5</text>
<line x1="350.40" y1="465.20" x2="350.40" y2="467.40" stroke="#000" stroke-width="1.3" />
<text x="350.40" y="480.10" font-size="10.2" text-anchor="middle" fill="#000" >10</text>
<line x1="382.80" y1="465.20" x2="382.80" y2="467.40" stroke="#000" stroke-width="1.3" />
<text x="382.80" y="480.10" font-size="10.2" text-anchor="middle" fill="#000" >15</text>
<line x1="415.20" y1="465.20" x2="415.20" y2="467.40" stroke="#000" stroke-width="1.3" />
<text x="415.20" y="480.10" font-size="10.2" text-anchor="middle" fill="#000" >20</text>
<line x1="301.80" y1="465.20" x2="301.80" y2="466.70" stroke="#000" stroke-width="1.0" />
<line x1="334.20" y1="465.20" x2="334.20" y2="466.70" stroke="#000" stroke-width="1.0" />
<line x1="366.60" y1="465.20" x2="366.60" y2="466.70" stroke="#000" stroke-width="1.0" />
<line x1="399.00" y1="465.20" x2="399.00" y2="466.70" stroke="#000" stroke-width="1.0" />
<line x1="431.40" y1="465.20" x2="431.40" y2="466.70" stroke="#000" stroke-width="1.0" />
<rect x="293.20" y="350.60" width="4.4" height="4.4" fill="#000"/>
<text x="310.60" y="357.40" font-size="10.1" text-anchor="start" fill="#000" >Normal</text>
<circle cx="295.40" cy="367.40" r="2.4" fill="#f00"/>
<text x="310.60" y="371.80" font-size="10.1" text-anchor="start" fill="#000" >Shear</text>
<text x="369.90" y="496.80" font-size="10.3" text-anchor="middle" fill="#000" >Applied pressure (kPa)</text>
<text transform="translate(250.40,410.00) rotate(-90)" font-size="10.1" text-anchor="middle" ><tspan font-weight="normal">Δ</tspan>ADC (A.U.)</text>
<rect x="381.2" y="388.2" width="63.19999999999999" height="47.19999999999999" fill="#fff"/>
<polyline points="382,399.4 405,410.8 425,420.9 444.2,430.4" fill="none" stroke="#f00" stroke-width="1.7"/>
<rect x="381.20" y="388.20" width="63.20" height="47.20" fill="none" stroke="#000" stroke-width="1.2" stroke-linejoin="round"/>
<text x="378.00" y="404.60" font-size="10.2" text-anchor="end" fill="#000" >0</text>
<text x="378.00" y="416.80" font-size="10.2" text-anchor="end" fill="#000" >-10</text>
<text x="378.00" y="429.00" font-size="10.2" text-anchor="end" fill="#000" >-20</text>
<text x="383.00" y="446.60" font-size="10.2" text-anchor="middle" fill="#000" >0</text>
<text x="407.40" y="446.60" font-size="10.2" text-anchor="middle" fill="#000" >10</text>
<text x="432.00" y="446.60" font-size="10.2" text-anchor="middle" fill="#000" >20</text>
<rect x="505.60" y="339.80" width="168.80" height="125.40" fill="none" stroke="#000" stroke-width="1.5" stroke-linejoin="round"/>
<line x1="524" y1="359.8" x2="660.5" y2="362.6" stroke="#7f00ff" stroke-width="4.6" stroke-linecap="round"/>
<polygon points="522.60,357.60 520.60,361.20 524.60,361.20" fill="#0000aa"/>
<polygon points="664.20,362.70 660.24,360.50 660.24,364.90" fill="#0000ff"/>
<line x1="505.60" y1="465.00" x2="502.80" y2="465.00" stroke="#000" stroke-width="1.3" />
<text x="497.80" y="469.70" font-size="10.2" text-anchor="end" fill="#000" >0</text>
<line x1="505.60" y1="444.16" x2="502.80" y2="444.16" stroke="#000" stroke-width="1.3" />
<text x="497.80" y="448.86" font-size="10.2" text-anchor="end" fill="#000" >0.2</text>
<line x1="505.60" y1="423.32" x2="502.80" y2="423.32" stroke="#000" stroke-width="1.3" />
<text x="497.80" y="428.02" font-size="10.2" text-anchor="end" fill="#000" >0.4</text>
<line x1="505.60" y1="402.48" x2="502.80" y2="402.48" stroke="#000" stroke-width="1.3" />
<text x="497.80" y="407.18" font-size="10.2" text-anchor="end" fill="#000" >0.6</text>
<line x1="505.60" y1="381.64" x2="502.80" y2="381.64" stroke="#000" stroke-width="1.3" />
<text x="497.80" y="386.34" font-size="10.2" text-anchor="end" fill="#000" >0.8</text>
<line x1="505.60" y1="360.80" x2="502.80" y2="360.80" stroke="#000" stroke-width="1.3" />
<text x="497.80" y="365.50" font-size="10.2" text-anchor="end" fill="#000" >1.0</text>
<line x1="505.60" y1="339.96" x2="502.80" y2="339.96" stroke="#000" stroke-width="1.3" />
<text x="497.80" y="344.66" font-size="10.2" text-anchor="end" fill="#000" >1.2</text>
<line x1="505.60" y1="454.58" x2="504.00" y2="454.58" stroke="#000" stroke-width="1.0" />
<line x1="505.60" y1="433.74" x2="504.00" y2="433.74" stroke="#000" stroke-width="1.0" />
<line x1="505.60" y1="412.90" x2="504.00" y2="412.90" stroke="#000" stroke-width="1.0" />
<line x1="505.60" y1="392.06" x2="504.00" y2="392.06" stroke="#000" stroke-width="1.0" />
<line x1="505.60" y1="371.22" x2="504.00" y2="371.22" stroke="#000" stroke-width="1.0" />
<line x1="505.60" y1="350.38" x2="504.00" y2="350.38" stroke="#000" stroke-width="1.0" />
<line x1="524.50" y1="465.20" x2="524.50" y2="467.40" stroke="#000" stroke-width="1.3" />
<text x="524.50" y="480.10" font-size="10.2" text-anchor="middle" fill="#000" >25</text>
<line x1="561.10" y1="465.20" x2="561.10" y2="467.40" stroke="#000" stroke-width="1.3" />
<text x="561.10" y="480.10" font-size="10.2" text-anchor="middle" fill="#000" >30</text>
<line x1="597.70" y1="465.20" x2="597.70" y2="467.40" stroke="#000" stroke-width="1.3" />
<text x="597.70" y="480.10" font-size="10.2" text-anchor="middle" fill="#000" >35</text>
<line x1="634.30" y1="465.20" x2="634.30" y2="467.40" stroke="#000" stroke-width="1.3" />
<text x="634.30" y="480.10" font-size="10.2" text-anchor="middle" fill="#000" >40</text>
<line x1="670.90" y1="465.20" x2="670.90" y2="467.40" stroke="#000" stroke-width="1.3" />
<text x="670.90" y="480.10" font-size="10.2" text-anchor="middle" fill="#000" >45</text>
<line x1="506.20" y1="465.20" x2="506.20" y2="466.70" stroke="#000" stroke-width="1.0" />
<line x1="542.80" y1="465.20" x2="542.80" y2="466.70" stroke="#000" stroke-width="1.0" />
<line x1="579.40" y1="465.20" x2="579.40" y2="466.70" stroke="#000" stroke-width="1.0" />
<line x1="616.00" y1="465.20" x2="616.00" y2="466.70" stroke="#000" stroke-width="1.0" />
<line x1="652.60" y1="465.20" x2="652.60" y2="466.70" stroke="#000" stroke-width="1.0" />
<text x="596.50" y="500.40" font-size="10.3" text-anchor="middle" fill="#000" >Temperature (°C)</text>
<text transform="translate(475.5,439.9) rotate(-90)" font-size="10.2">ADC / ADC<tspan font-size="7.5" dy="2.6">35</tspan><tspan font-size="6.2" dx="1.2">°C</tspan></text>
<rect x="537.0" y="379.6" width="106.5" height="48.0" fill="#fff"/>
<polyline points="537.5,382.3 566,392.6 596.4,404.0 643,421.8" fill="none" stroke="#008000" stroke-width="1.8"/>
<polyline points="537.5,386.0 566,395.0 596.4,404.0 643,418.6" fill="none" stroke="#0000ff" stroke-width="2.6"/>
<polyline points="537.5,384.0 566,393.6 596.4,404.2 643,420.2" fill="none" stroke="#7f00ff" stroke-width="1.8"/>
<rect x="537.00" y="379.60" width="106.50" height="48.00" fill="none" stroke="#000" stroke-width="1.3" stroke-linejoin="round"/>
<text x="534.40" y="385.00" font-size="10.2" text-anchor="end" fill="#000" >2</text>
<text x="534.40" y="396.60" font-size="10.2" text-anchor="end" fill="#000" >1</text>
<text x="534.40" y="408.20" font-size="10.2" text-anchor="end" fill="#000" >0</text>
<text x="534.40" y="419.80" font-size="10.2" text-anchor="end" fill="#000" >-1</text>
<text x="534.40" y="431.40" font-size="10.2" text-anchor="end" fill="#000" >-2</text>
<text x="537.40" y="442.80" font-size="10.2" text-anchor="middle" fill="#000" >25</text>
<text x="567.60" y="442.80" font-size="10.2" text-anchor="middle" fill="#000" >30</text>
<text x="597.80" y="442.80" font-size="10.2" text-anchor="middle" fill="#000" >35</text>
<text x="628.00" y="442.80" font-size="10.2" text-anchor="middle" fill="#000" >40</text>
<line x1="567.60" y1="427.60" x2="567.60" y2="429.20" stroke="#000" stroke-width="1.1" />
<line x1="597.80" y1="427.60" x2="597.80" y2="429.20" stroke="#000" stroke-width="1.1" />
<line x1="628.00" y1="427.60" x2="628.00" y2="429.20" stroke="#000" stroke-width="1.1" />
<text transform="translate(519.00,403.40) rotate(-90)" font-size="10.3" text-anchor="middle" >Changes (%)</text>
<text x="588.00" y="455.50" font-size="10.3" text-anchor="middle" fill="#000" >Temperature (°C)</text>
<rect x="651.10" y="380.50" width="3.0" height="3.0" fill="#000"/>
<text x="659.80" y="386.00" font-size="10.3" text-anchor="start" fill="#000" >P1</text>
<circle cx="652.60" cy="390.65" r="1.7" fill="#f00"/>
<text x="659.80" y="394.85" font-size="10.3" text-anchor="start" fill="#000" >P2</text>
<polygon points="652.60,397.50 650.60,401.10 654.60,401.10" fill="#0000ff"/>
<text x="659.80" y="403.70" font-size="10.3" text-anchor="start" fill="#000" >P3</text>
<polygon points="652.60,410.35 650.60,406.75 654.60,406.75" fill="#ff00ff"/>
<text x="659.80" y="412.55" font-size="10.3" text-anchor="start" fill="#000" >P4</text>
<polygon points="652.60,415.00 654.80,417.20 652.60,419.40 650.40,417.20" fill="#008000"/>
<text x="659.80" y="421.40" font-size="10.3" text-anchor="start" fill="#000" >P5</text>
<polygon points="650.60,426.05 654.20,424.05 654.20,428.05" fill="#000080"/>
<text x="659.80" y="430.25" font-size="10.3" text-anchor="start" fill="#000" >P6</text>
<polygon points="654.60,434.90 651.00,432.90 651.00,436.90" fill="#8000ff"/>
<text x="659.80" y="439.10" font-size="10.3" text-anchor="start" fill="#000" >P7</text>
<g id="panelA" clip-path="url(#clipA)">
<defs>
<clipPath id="clipA"><rect x="-1" y="35.2" width="161.9" height="120.6"/></clipPath>
<radialGradient id="domeG" cx="0.42" cy="0.3" r="0.75"><stop offset="0" stop-color="#d9d1de"/><stop offset="0.55" stop-color="#c3b7cb"/><stop offset="1" stop-color="#b3a4bb"/></radialGradient>
<linearGradient id="shine" x1="0" y1="0" x2="1" y2="0"><stop offset="0" stop-color="#d8c4cc" stop-opacity="0.7"/><stop offset="0.5" stop-color="#b08c94" stop-opacity="0.45"/><stop offset="1" stop-color="#6b3838" stop-opacity="0"/></linearGradient>
</defs>
<g fill="none" stroke="#f8c768" stroke-width="8.0" stroke-linecap="round" stroke-linejoin="round">


<path d="M31,137 Q24,138 23.6,130 L23.6,112 Q23.6,104 17,104 Q10,104 10,112 L10,138 Q10,146 3,146 Q-3,146 -3,138 L-3,118 M17,104 L27,99"/>
</g>
<g fill="none" stroke="#f8c768" stroke-linecap="round">
<path d="M15.5,39.6 L47,36.8 M24.8,50.8 L57,46.2 M35,61.6 L63.5,56.4" stroke-width="7.2"/>
<path d="M47,37 L56.5,46 M24.8,50.8 L35,61.4 M63.5,56.4 L70,62" stroke-width="4"/>
</g>
<g fill="none" stroke="#fef0d2" stroke-width="2.0" stroke-linecap="round" stroke-linejoin="round">
<path d="M18.5,39.6 L44,37.2 M28,50.4 L54,46.6 M38.5,61 L62,56.6"/>

<path d="M28,137 Q24,138 23.6,130 L23.6,112 Q23.6,104 17,104 Q10,104 10,112 L10,138 Q10,146 3,146 Q-3,146 -3,138 L-3,118"/>
</g>
<path d="M106,80 L112,78 Q115.5,76.5 116.2,72 L118.6,59 Q120,52.5 124.5,52.5 Q129.5,53 129.2,59 L128.4,69.5 Q128.5,74 131.8,74 Q135.2,74 135.3,69.5 L136.2,51.5 Q137,45.5 141.2,45.5 Q145.6,45.8 145.3,51.5 L144.6,66.5 Q144.8,71 148,71 Q151.2,71 151.4,66.5 L152.4,44.5 Q153.2,38.5 157.2,38.5 Q161.4,38.8 161.2,44.5 L160.6,62" fill="none" stroke="#f8c768" stroke-width="5.6" stroke-linecap="round" stroke-linejoin="round"/>
<path d="M106,80 L112,78 Q115.5,76.5 116.2,72 L118.6,59 Q120,52.5 124.5,52.5 Q129.5,53 129.2,59 L128.4,69.5 Q128.5,74 131.8,74 Q135.2,74 135.3,69.5 L136.2,51.5 Q137,45.5 141.2,45.5 Q145.6,45.8 145.3,51.5 L144.6,66.5 Q144.8,71 148,71 Q151.2,71 151.4,66.5 L152.4,44.5 Q153.2,38.5 157.2,38.5 Q161.4,38.8 161.2,44.5 L160.6,62" fill="none" stroke="#fde6b4" stroke-width="0.9" stroke-linecap="round" stroke-linejoin="round"/>
<g fill="none" stroke-linecap="round" stroke-linejoin="round">
<path d="M110,157 L131,129 Q135.5,124 140.5,127.5 Q144,130.5 141.5,134.5 L124,158 M126,157 L149,140.5 Q153.5,137 157,140 Q159.5,142.5 159,147 L159,158 M126,124 L134,128" stroke="#f8c768" stroke-width="5.2"/>
<path d="M110,157 L131,129 Q135.5,124 140.5,127.5 Q144,130.5 141.5,134.5 L124,158 M126,157 L149,140.5 Q153.5,137 157,140 Q159.5,142.5 159,147 L159,158" stroke="#fde6b4" stroke-width="1.0"/>
</g>
<ellipse cx="83.5" cy="101.5" rx="59" ry="42.5" fill="#f5c06a" transform="rotate(-6 83.5 101.5)"/>
<ellipse cx="80.6" cy="98.6" rx="58.6" ry="42.2" fill="#6b3838" transform="rotate(-6 80.6 98.6)"/>
<ellipse cx="116" cy="94" rx="14" ry="30" fill="url(#shine)" transform="rotate(-12 116 94)"/>
<ellipse cx="79.7" cy="89.8" rx="40.2" ry="31.8" fill="url(#domeG)"/>
<ellipse cx="79" cy="68.5" rx="22" ry="9.5" fill="#e3dde8" opacity="0.9"/>
<path d="M57,80 Q62,66 80,61 Q68,68 64,82 Z" fill="#f2eff5" opacity="0.8"/>
<g fill="none" stroke="#e4b27a" stroke-width="0.9" stroke-linecap="round">
<path d="M22,103 L34,84 L58,72"/><path d="M22,104 L70,112 L100,119"/><path d="M24,106 L60,117"/>
<path d="M98,74 L118,90 L132,118"/><path d="M102,110 L128,118"/><path d="M50,84 L64,110 L78,116"/><path d="M88,70 L104,96"/>
</g>
<polygon points="56,90.9 86.8,76 97.7,90.4 67.9,106.3" fill="#a9d0b2" stroke="#9ccaa6" stroke-width="1.0"/>
<polygon points="61.5,90.8 85.5,79.5 93.5,90 69,103" fill="#bfc3c6" stroke="#86c096" stroke-width="1.1"/>
<polygon points="66.5,89.5 74.5,86 77.5,92 70,95.5" fill="#bc98cc"/>
<polygon points="80.5,81.5 85.5,81 83.2,85.5" fill="#e4aaa8"/>
<rect x="55" y="76" width="6" height="2.6" fill="#98a4b4" transform="rotate(-25 58 77)"/>
<rect x="70" y="68.5" width="6" height="2.6" fill="#98a4b4" transform="rotate(-25 73 70)"/>
<rect x="83" y="107" width="6" height="2.8" fill="#98a4b4" transform="rotate(-25 86 108)"/>
<rect x="100" y="97.5" width="5" height="2.6" fill="#98a4b4" transform="rotate(-25 102 99)"/>
</g>
<line x1="91.30" y1="70.20" x2="166.40" y2="58.40" stroke="#000" stroke-width="1.8" />
<line x1="91.30" y1="87.10" x2="166.40" y2="96.40" stroke="#000" stroke-width="1.8" />
<line x1="91.30" y1="107.60" x2="166.40" y2="134.20" stroke="#000" stroke-width="1.8" />
<text x="177.80" y="63.00" font-size="10.3" text-anchor="start" fill="#000" >Silicone elastomer</text>
<text x="177.40" y="100.50" font-size="10.3" text-anchor="start" fill="#000" >Pressure sensor SoC</text>
<text x="178.00" y="138.50" font-size="10.3" text-anchor="start" fill="#000" >IC components</text>
<g id="panelB">
<defs>
<linearGradient id="bSide" gradientUnits="userSpaceOnUse" x1="356" y1="55" x2="350" y2="128">
<stop offset="0" stop-color="#1fd65a"/><stop offset="0.15" stop-color="#1fd65a"/>
<stop offset="0.15" stop-color="#56e41c"/><stop offset="0.29" stop-color="#56e41c"/>
<stop offset="0.29" stop-color="#b0f000"/><stop offset="0.44" stop-color="#b0f000"/>
<stop offset="0.44" stop-color="#eef600"/><stop offset="1" stop-color="#f2f000"/>
</linearGradient>
<clipPath id="cfClip"><path d="M372.7,65.9 L435.9,38 C438,46 440,58 442.2,66.7 C444,71 447,76 451,77.8 L461.4,80.2 L343,149 L366,135 L367,126 L369.5,109.7 Z"/></clipPath>
</defs>
<path d="M461.4,80.2 L343,149 C330,146 314,138 309,128 C304,116 312,104 324,97.5 C330,94 336,92 343,90 Z" fill="#e60000"/>
<path d="M341,91 C332,96 326,104 323,114 C327,119 333,124 345,131 C352,135 358,138 364,140 L367,126 L368,110 Z" fill="#f36400"/>
<path d="M341,92 C337,96 334,100 333,103 C335,110 337,114 340,117 C347,122 355,127 363,130 L367,124 L368,108 Z" fill="#f7a600"/>
<path d="M352,54 C358,61 366,65 372.7,65.9 L369.5,109.7 L367.5,124.5 C360,125 352,122 347.8,119.4 C343,116 340,111 339.8,107 C339,103 339.5,98 341,93 C342,86 344,80 345.5,74 C347,66 349.5,59 352,54 Z" fill="url(#bSide)"/>
<g clip-path="url(#cfClip)">
<rect x="340" y="30" width="130" height="130" fill="#2fb43a"/>
<path d="M372.7,65.9 L435.9,38 L440,44 L380,72 Z" fill="#22be7a"/>
<path d="M378,67 C386,70 392,82 398,90 C402,95 408,95 412,88 C418,78 424,60 432,42 L436,38 Z" fill="#1aa69c"/>
<path d="M372,74 C378,80 384,92 392,100 C400,106 412,104 418,96 C424,86 430,70 438,50 L442,67 C436,80 430,94 424,102 C414,112 398,114 388,108 C380,102 374,92 371,84 Z" fill="#27ae52"/>
<path d="M343,149 L461.4,80.2 L452,78 C446,76 443,77 440,82 C436,88 430,91 424,94 C416,98 408,103 400,108 C394,112 388,114 382,117 C376,119 372,118 368,118 L366,135 Z" fill="#94b426"/>
<path d="M343,149 L400,116 C395,112 390,114 385,118 C380,121 376,118 372,122 L366,130 Z" fill="#a8901a"/>
<path d="M343,149 L380,127 C374,126 370,128 366,133 Z" fill="#a06a10"/>
<path d="M440,88 C444,82 448,80 452,79 L461.4,80.2 L436,95 Z" fill="#c8801a"/>
<path d="M446,76 L461.4,80.2 L452,85 C450,82 448,80 446,76 Z" fill="#e03000"/>
<path d="M425,94 C428,90 432,90 434,94 L430,98 Z" fill="#c06818"/>
<path d="M436,46 C438,56 440,64 442,70 L438,80 C436,70 434,58 432,48 Z" fill="#4cb830"/>
</g>
<path d="M447,76.5 C452,79 456,79.5 461.4,80.2 L452,85.5 Z" fill="#e00000"/>
<path d="M352,54 C362,44 380,38.5 400,37.4 C415,36.8 428,37.2 435.9,38 L372.7,65.9 C365,64.5 357,60 352,54 Z" fill="#14d8b8"/>
<path d="M352,54 C362,44 380,38.5 400,37.4 C415,36.8 428,37.2 435.9,38 L430,40.5 C420,40 410,40 400,40.5 C382,41.5 366,47 358,56 C365,62 370,64 372.7,65.9 C365,64.5 357,60 352,54 Z" fill="#22d884"/>
<path d="M360,55 C368,48 382,43.5 400,42.5 C412,42 420,42 427,42.5" fill="none" stroke="#4ee6d8" stroke-width="1.1"/>
<path d="M391.5,112.4 L399.2,108 L400,109.6 L392.3,114 Z" fill="#e04030"/><path d="M389.5,113.5 L391,112.6 L391.8,115.5 Z" fill="#3050c0"/>
</g>
<text transform="translate(394.5,68.6) rotate(-31)" font-size="6.8" font-style="italic" font-weight="bold" fill="#0a1a2a">elastomer</text>
<text transform="translate(388.4,109.4) rotate(-31)" font-size="6.5" font-style="italic" font-weight="bold" fill="#0a1a2a">Sensor</text>
<text x="362.40" y="8.20" font-size="10.3" text-anchor="start" fill="#000" >P<tspan font-size="7" dy="2">0</tspan><tspan dy="-2"> = 10 kPa</tspan></text>
<line x1="367.40" y1="17.00" x2="367.40" y2="33.40" stroke="#000" stroke-width="1.4" />
<polygon points="367.4,37.4 364.79999999999995,31.9 370.0,31.9" fill="#000"/>
<line x1="387.60" y1="14.40" x2="387.60" y2="30.40" stroke="#000" stroke-width="1.4" />
<polygon points="387.6,34.4 385.0,28.9 390.20000000000005,28.9" fill="#000"/>
<line x1="408.00" y1="11.00" x2="408.00" y2="27.40" stroke="#000" stroke-width="1.4" />
<polygon points="408,31.4 405.4,25.9 410.6,25.9" fill="#000"/>
<line x1="378.60" y1="130.00" x2="378.60" y2="117.00" stroke="#000" stroke-width="1.3" />
<polygon points="378.6,113.4 376.3,118.6 380.9,118.6" fill="#000"/>
<line x1="378.60" y1="130.00" x2="391.00" y2="121.50" stroke="#000" stroke-width="1.3" />
<polygon points="394.2,119.4 388.2,120.2 391.2,124.4" fill="#000"/>
<line x1="378.60" y1="130.00" x2="390.00" y2="137.00" stroke="#000" stroke-width="1.3" />
<polygon points="393.4,139.2 387.6,138.6 390.6,134.6" fill="#000"/>
<text x="369.80" y="117.00" font-size="10.3" text-anchor="start" fill="#000" >z</text>
<text x="399.80" y="125.40" font-size="10.3" text-anchor="start" fill="#000" >y</text>
<text x="396.40" y="141.00" font-size="10.3" text-anchor="start" fill="#000" >x</text>
<g id="panelC">
<rect x="508" y="35.9" width="102.5" height="101.7" fill="#02d42a"/>
<path d="M508,35.9 L518,35.9 C515,38 514,42 514,48 C513,70 513,100 512,137.6 L508,137.6 Z" fill="#14d070" opacity="0.9"/>
<path d="M610.5,35.9 L600,35.9 C603,38 604,42 605,50 C606,80 607,110 607.5,137.6 L610.5,137.6 Z" fill="#14d070" opacity="0.9"/>
<rect x="508" y="35.9" width="102.5" height="1.6" fill="#0cd258"/>
<rect x="508" y="135.2" width="102.5" height="1.6" fill="#12cf6a"/>
<rect x="508" y="136.6" width="102.5" height="1.0" fill="#9ce030"/>
</g>
<line x1="507.20" y1="123.60" x2="507.20" y2="139.40" stroke="#000" stroke-width="1.4" />
<line x1="506.50" y1="139.00" x2="522.60" y2="139.00" stroke="#000" stroke-width="1.4" />
<text x="500.40" y="120.60" font-size="10.3" text-anchor="start" fill="#000" >y</text>
<text x="525.40" y="147.80" font-size="10.3" text-anchor="start" fill="#000" >x</text>
<text x="611.80" y="29.20" font-size="10.3" text-anchor="start" fill="#000" >σ<tspan font-size="7" dy="2.2">3</tspan><tspan dy="-2.2"> /10 kPa</tspan></text>
<rect x="633.2" y="64.30" width="10.3" height="2.6" fill="#ff0a00"/>
<rect x="633.2" y="66.79" width="10.3" height="2.6" fill="#ff3400"/>
<rect x="633.2" y="69.28" width="10.3" height="2.6" fill="#ff6400"/>
<rect x="633.2" y="71.77" width="10.3" height="2.6" fill="#ff9400"/>
<rect x="633.2" y="74.26" width="10.3" height="2.6" fill="#ffc400"/>
<rect x="633.2" y="76.75" width="10.3" height="2.6" fill="#f2ee00"/>
<rect x="633.2" y="79.24" width="10.3" height="2.6" fill="#b4f000"/>
<rect x="633.2" y="81.73" width="10.3" height="2.6" fill="#64e600"/>
<rect x="633.2" y="84.22" width="10.3" height="2.6" fill="#14d810"/>
<rect x="633.2" y="86.71" width="10.3" height="2.6" fill="#00d85c"/>
<rect x="633.2" y="89.20" width="10.3" height="2.6" fill="#00e2b0"/>
<rect x="633.2" y="91.69" width="10.3" height="2.6" fill="#00e8ec"/>
<rect x="633.2" y="94.18" width="10.3" height="2.6" fill="#00b4ff"/>
<rect x="633.2" y="96.67" width="10.3" height="2.6" fill="#0064ff"/>
<rect x="633.2" y="99.16" width="10.3" height="2.6" fill="#0818e4"/>
<text x="637.60" y="59.80" font-size="10.2" text-anchor="middle" fill="#000" >0</text>
<text x="637.80" y="118.60" font-size="10.2" text-anchor="middle" fill="#000" >-15</text>
</svg>
</body></html>
